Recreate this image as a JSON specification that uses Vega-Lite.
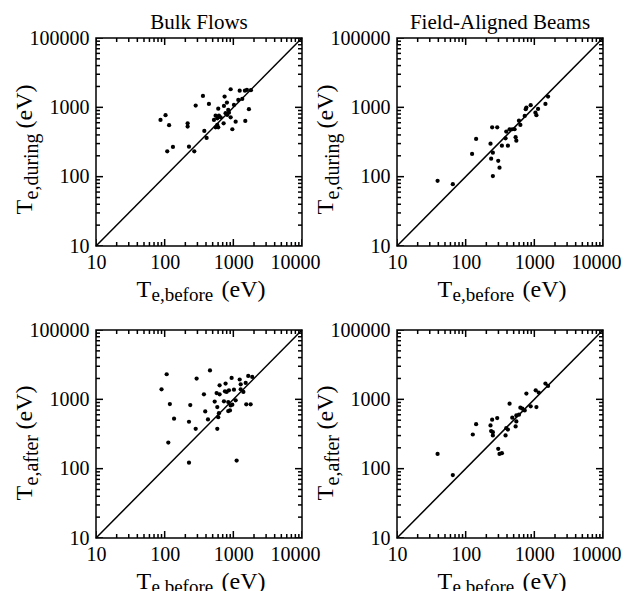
{
  "$schema": "https://vega.github.io/schema/vega-lite/v6.json",
  "background": "white",
  "padding": {"left": 11, "top": 11, "right": 5, "bottom": 0},
  "config": {
    "font": "Liberation Serif",
    "view": {"stroke": "black", "strokeWidth": 1.5},
    "axis": {"labelFont": "Liberation Serif", "labelFontSize": 20, "labelColor": "black", "domain": false, "ticks": false, "grid": false, "titleFont": "Liberation Serif", "titleColor": "black", "titleFontWeight": "normal", "labelFlush": false, "labelOverlap": false, "labelBound": false},
    "title": {"font": "Liberation Serif", "fontSize": 21, "fontWeight": "normal", "color": "black"}
  },
  "datasets": {
    "diag": [{"v": 10}, {"v": 10000}],
    "ticks": [
      {"t": 10, "kind": "major"}, {"t": 100, "kind": "major"}, {"t": 1000, "kind": "major"}, {"t": 10000, "kind": "major"},
      {"t": 20, "kind": "minor"}, {"t": 30, "kind": "minor"}, {"t": 40, "kind": "minor"}, {"t": 50, "kind": "minor"}, {"t": 60, "kind": "minor"}, {"t": 70, "kind": "minor"}, {"t": 80, "kind": "minor"}, {"t": 90, "kind": "minor"},
      {"t": 200, "kind": "minor"}, {"t": 300, "kind": "minor"}, {"t": 400, "kind": "minor"}, {"t": 500, "kind": "minor"}, {"t": 600, "kind": "minor"}, {"t": 700, "kind": "minor"}, {"t": 800, "kind": "minor"}, {"t": 900, "kind": "minor"},
      {"t": 2000, "kind": "minor"}, {"t": 3000, "kind": "minor"}, {"t": 4000, "kind": "minor"}, {"t": 5000, "kind": "minor"}, {"t": 6000, "kind": "minor"}, {"t": 7000, "kind": "minor"}, {"t": 8000, "kind": "minor"}, {"t": 9000, "kind": "minor"}
    ],
    "bulk_during": [
      {"before": 87, "during": 658}, {"before": 103, "during": 769}, {"before": 116, "during": 552}, {"before": 109, "during": 232}, {"before": 132, "during": 268},
      {"before": 216, "during": 589}, {"before": 216, "during": 527}, {"before": 226, "during": 271}, {"before": 270, "during": 232}, {"before": 283, "during": 1060},
      {"before": 361, "during": 1462}, {"before": 441, "during": 1120}, {"before": 378, "during": 456}, {"before": 408, "during": 362}, {"before": 603, "during": 957},
      {"before": 552, "during": 758}, {"before": 522, "during": 658}, {"before": 584, "during": 695}, {"before": 653, "during": 719}, {"before": 552, "during": 516},
      {"before": 603, "during": 516}, {"before": 584, "during": 557}, {"before": 722, "during": 589}, {"before": 730, "during": 1047}, {"before": 746, "during": 1428},
      {"before": 807, "during": 1170}, {"before": 843, "during": 918}, {"before": 815, "during": 776}, {"before": 914, "during": 1823}, {"before": 914, "during": 719},
      {"before": 967, "during": 483}, {"before": 1021, "during": 1083}, {"before": 1081, "during": 622}, {"before": 1237, "during": 1740}, {"before": 1181, "during": 1280},
      {"before": 1349, "during": 1322}, {"before": 1475, "during": 1740}, {"before": 1577, "during": 1782}, {"before": 1803, "during": 1770}, {"before": 1686, "during": 940},
      {"before": 1493, "during": 637}, {"before": 771, "during": 822}, {"before": 863, "during": 838}, {"before": 617, "during": 758}
    ],
    "bulk_after": [
      {"before": 90, "after": 1396}, {"before": 107, "after": 2300}, {"before": 119, "after": 855}, {"before": 137, "after": 525}, {"before": 113, "after": 238},
      {"before": 226, "after": 122}, {"before": 226, "after": 475}, {"before": 236, "after": 828}, {"before": 283, "after": 376}, {"before": 292, "after": 1995},
      {"before": 373, "after": 1181}, {"before": 390, "after": 670}, {"before": 427, "after": 513}, {"before": 457, "after": 2606}, {"before": 535, "after": 927},
      {"before": 571, "after": 1233}, {"before": 584, "after": 773}, {"before": 584, "after": 376}, {"before": 603, "after": 553}, {"before": 617, "after": 632},
      {"before": 631, "after": 1595}, {"before": 631, "after": 1181}, {"before": 730, "after": 935}, {"before": 771, "after": 1690}, {"before": 755, "after": 1306},
      {"before": 798, "after": 1276}, {"before": 863, "after": 1349}, {"before": 843, "after": 914}, {"before": 914, "after": 818}, {"before": 843, "after": 676},
      {"before": 893, "after": 692}, {"before": 944, "after": 2037}, {"before": 967, "after": 838}, {"before": 1021, "after": 1380}, {"before": 1081, "after": 968},
      {"before": 1117, "after": 131}, {"before": 1237, "after": 1932}, {"before": 1280, "after": 1648}, {"before": 1280, "after": 1396}, {"before": 1400, "after": 1276},
      {"before": 1514, "after": 1722}, {"before": 1543, "after": 847}, {"before": 1786, "after": 847}, {"before": 1648, "after": 2178}, {"before": 1884, "after": 2104}
    ],
    "fab_during": [
      {"before": 39, "during": 87}, {"before": 65, "during": 78}, {"before": 124, "during": 213}, {"before": 142, "during": 350}, {"before": 230, "during": 299},
      {"before": 243, "during": 516}, {"before": 288, "during": 516}, {"before": 235, "during": 182}, {"before": 249, "during": 222}, {"before": 249, "during": 102},
      {"before": 298, "during": 169}, {"before": 311, "during": 135}, {"before": 337, "during": 280}, {"before": 381, "during": 358}, {"before": 390, "during": 447},
      {"before": 412, "during": 280}, {"before": 436, "during": 483}, {"before": 477, "during": 483}, {"before": 516, "during": 483}, {"before": 534, "during": 371},
      {"before": 547, "during": 331}, {"before": 597, "during": 643}, {"before": 626, "during": 557}, {"before": 724, "during": 752}, {"before": 749, "during": 940},
      {"before": 766, "during": 991}, {"before": 885, "during": 1072}, {"before": 1037, "during": 838}, {"before": 1072, "during": 769}, {"before": 1133, "during": 948},
      {"before": 1451, "during": 1120}, {"before": 1584, "during": 1428}
    ],
    "fab_after": [
      {"before": 39, "after": 163}, {"before": 65, "after": 81}, {"before": 127, "after": 311}, {"before": 142, "after": 438}, {"before": 230, "after": 420},
      {"before": 243, "after": 508}, {"before": 288, "after": 536}, {"before": 235, "after": 348}, {"before": 249, "after": 336}, {"before": 249, "after": 301},
      {"before": 298, "after": 193}, {"before": 311, "after": 163}, {"before": 337, "after": 167}, {"before": 381, "after": 301}, {"before": 390, "after": 384},
      {"before": 412, "after": 367}, {"before": 436, "after": 867}, {"before": 477, "after": 543}, {"before": 534, "after": 406}, {"before": 547, "after": 480},
      {"before": 547, "after": 586}, {"before": 597, "after": 600}, {"before": 626, "after": 758}, {"before": 724, "after": 693}, {"before": 766, "after": 1211},
      {"before": 885, "after": 792}, {"before": 1072, "after": 773}, {"before": 1047, "after": 1349}, {"before": 1159, "after": 1250}, {"before": 1451, "after": 1690},
      {"before": 1584, "after": 1560}, {"before": 670, "after": 733}
    ]
  },
  "columns": 2,
  "bounds": "flush",
  "spacing": {"row": 84, "column": 95},
  "concat": [
    {
      "width": 206, "height": 208,
      "title": {"text": "Bulk Flows", "offset": -5},
      "data": {"name": "bulk_during"},
      "resolve": {"axis": {"x": "independent", "y": "independent"}},
      "layer": [
        {"mark": {"type": "point", "filled": true, "color": "black", "opacity": 1, "size": 18},
         "encoding": {
           "x": {"field": "before", "type": "quantitative", "scale": {"type": "log", "domain": [10, 10000]},
                 "axis": {"orient": "bottom", "values": [10, 100, 1000, 10000], "tickSize": 0, "labelPadding": 6,
                          "labelOffset": {"condition": {"test": "datum.value == 10000", "value": -7}, "value": 0}, "labelExpr": "format(datum.value, 'd')",
                          "title": "T", "titleFontSize": 24, "titleAlign": "left", "titleBaseline": "alphabetic", "titleX": 40, "titleY": 50}},
           "y": {"field": "during", "type": "quantitative", "scale": {"type": "log", "domain": [10, 10000]},
                 "axis": {"orient": "left", "values": [10, 100, 1000, 10000], "tickSize": 0, "labelPadding": 7,
                          "labelExpr": "datum.value == 10000 ? '100000' : format(datum.value, 'd')",
                          "title": "T", "titleFontSize": 24, "titleAngle": 270, "titleAlign": "left", "titleBaseline": "alphabetic", "titleX": -65, "titleY": 176}}
         }},
        {"data": {"name": "diag"}, "mark": {"type": "line", "color": "black", "strokeWidth": 1.5},
         "encoding": {
           "x": {"field": "v", "type": "quantitative", "scale": {"type": "log", "domain": [10, 10000]}, "axis": null},
           "y": {"field": "v", "type": "quantitative", "scale": {"type": "log", "domain": [10, 10000]}, "axis": null}
         }},
        {"mark": {"type": "point", "opacity": 0},
         "encoding": {
           "x": {"field": "before", "type": "quantitative", "scale": {"type": "log", "domain": [10, 10000]},
                 "axis": {"orient": "bottom", "labels": false, "title": "e,before", "titleFontSize": 19, "titleAlign": "left", "titleBaseline": "alphabetic", "titleX": 55, "titleY": 54.5}},
           "y": {"field": "during", "type": "quantitative", "scale": {"type": "log", "domain": [10, 10000]},
                 "axis": {"orient": "left", "labels": false, "title": "e,during", "titleFontSize": 20, "titleAngle": 270, "titleAlign": "left", "titleBaseline": "alphabetic", "titleX": -59, "titleY": 161}}
         }},
        {"mark": {"type": "point", "opacity": 0},
         "encoding": {
           "x": {"field": "before", "type": "quantitative", "scale": {"type": "log", "domain": [10, 10000]},
                 "axis": {"orient": "bottom", "labels": false, "title": "(eV)", "titleFontSize": 24, "titleAlign": "left", "titleBaseline": "alphabetic", "titleX": 125, "titleY": 50}},
           "y": {"field": "during", "type": "quantitative", "scale": {"type": "log", "domain": [10, 10000]},
                 "axis": {"orient": "left", "labels": false, "title": "(eV)", "titleFontSize": 24, "titleAngle": 270, "titleAlign": "left", "titleBaseline": "alphabetic", "titleX": -65, "titleY": 90}}
         }},
        {"data": {"name": "ticks"}, "mark": {"type": "tick", "orient": "vertical", "clip": true, "color": "black", "thickness": 1.5, "opacity": 1},
         "encoding": {
           "x": {"field": "t", "type": "quantitative", "scale": {"type": "log", "domain": [10, 10000]}, "axis": null},
           "y": {"datum": 10, "type": "quantitative", "scale": {"type": "log", "domain": [10, 10000]}, "axis": null},
           "size": {"field": "kind", "type": "nominal", "scale": {"domain": ["major", "minor"], "range": [14, 8]}, "legend": null}
         }},
        {"data": {"name": "ticks"}, "mark": {"type": "tick", "orient": "vertical", "clip": true, "color": "black", "thickness": 1.5, "opacity": 1},
         "encoding": {
           "x": {"field": "t", "type": "quantitative", "scale": {"type": "log", "domain": [10, 10000]}, "axis": null},
           "y": {"datum": 10000, "type": "quantitative", "scale": {"type": "log", "domain": [10, 10000]}, "axis": null},
           "size": {"field": "kind", "type": "nominal", "scale": {"domain": ["major", "minor"], "range": [14, 8]}, "legend": null}
         }},
        {"data": {"name": "ticks"}, "mark": {"type": "tick", "orient": "horizontal", "clip": true, "color": "black", "thickness": 1.5, "opacity": 1},
         "encoding": {
           "x": {"datum": 10, "type": "quantitative", "scale": {"type": "log", "domain": [10, 10000]}, "axis": null},
           "y": {"field": "t", "type": "quantitative", "scale": {"type": "log", "domain": [10, 10000]}, "axis": null},
           "size": {"field": "kind", "type": "nominal", "scale": {"domain": ["major", "minor"], "range": [14, 8]}, "legend": null}
         }},
        {"data": {"name": "ticks"}, "mark": {"type": "tick", "orient": "horizontal", "clip": true, "color": "black", "thickness": 1.5, "opacity": 1},
         "encoding": {
           "x": {"datum": 10000, "type": "quantitative", "scale": {"type": "log", "domain": [10, 10000]}, "axis": null},
           "y": {"field": "t", "type": "quantitative", "scale": {"type": "log", "domain": [10, 10000]}, "axis": null},
           "size": {"field": "kind", "type": "nominal", "scale": {"domain": ["major", "minor"], "range": [14, 8]}, "legend": null}
         }}
      ]
    },
    {
      "width": 206, "height": 208,
      "title": {"text": "Field-Aligned Beams", "offset": -5},
      "data": {"name": "fab_during"},
      "resolve": {"axis": {"x": "independent", "y": "independent"}},
      "layer": [
        {"mark": {"type": "point", "filled": true, "color": "black", "opacity": 1, "size": 18},
         "encoding": {
           "x": {"field": "before", "type": "quantitative", "scale": {"type": "log", "domain": [10, 10000]},
                 "axis": {"orient": "bottom", "values": [10, 100, 1000, 10000], "tickSize": 0, "labelPadding": 6,
                          "labelOffset": {"condition": {"test": "datum.value == 10000", "value": -7}, "value": 0}, "labelExpr": "format(datum.value, 'd')",
                          "title": "T", "titleFontSize": 24, "titleAlign": "left", "titleBaseline": "alphabetic", "titleX": 40, "titleY": 50}},
           "y": {"field": "during", "type": "quantitative", "scale": {"type": "log", "domain": [10, 10000]},
                 "axis": {"orient": "left", "values": [10, 100, 1000, 10000], "tickSize": 0, "labelPadding": 7,
                          "labelExpr": "datum.value == 10000 ? '100000' : format(datum.value, 'd')",
                          "title": "T", "titleFontSize": 24, "titleAngle": 270, "titleAlign": "left", "titleBaseline": "alphabetic", "titleX": -65, "titleY": 176}}
         }},
        {"data": {"name": "diag"}, "mark": {"type": "line", "color": "black", "strokeWidth": 1.5},
         "encoding": {
           "x": {"field": "v", "type": "quantitative", "scale": {"type": "log", "domain": [10, 10000]}, "axis": null},
           "y": {"field": "v", "type": "quantitative", "scale": {"type": "log", "domain": [10, 10000]}, "axis": null}
         }},
        {"mark": {"type": "point", "opacity": 0},
         "encoding": {
           "x": {"field": "before", "type": "quantitative", "scale": {"type": "log", "domain": [10, 10000]},
                 "axis": {"orient": "bottom", "labels": false, "title": "e,before", "titleFontSize": 19, "titleAlign": "left", "titleBaseline": "alphabetic", "titleX": 55, "titleY": 54.5}},
           "y": {"field": "during", "type": "quantitative", "scale": {"type": "log", "domain": [10, 10000]},
                 "axis": {"orient": "left", "labels": false, "title": "e,during", "titleFontSize": 20, "titleAngle": 270, "titleAlign": "left", "titleBaseline": "alphabetic", "titleX": -59, "titleY": 161}}
         }},
        {"mark": {"type": "point", "opacity": 0},
         "encoding": {
           "x": {"field": "before", "type": "quantitative", "scale": {"type": "log", "domain": [10, 10000]},
                 "axis": {"orient": "bottom", "labels": false, "title": "(eV)", "titleFontSize": 24, "titleAlign": "left", "titleBaseline": "alphabetic", "titleX": 125, "titleY": 50}},
           "y": {"field": "during", "type": "quantitative", "scale": {"type": "log", "domain": [10, 10000]},
                 "axis": {"orient": "left", "labels": false, "title": "(eV)", "titleFontSize": 24, "titleAngle": 270, "titleAlign": "left", "titleBaseline": "alphabetic", "titleX": -65, "titleY": 90}}
         }},
        {"data": {"name": "ticks"}, "mark": {"type": "tick", "orient": "vertical", "clip": true, "color": "black", "thickness": 1.5, "opacity": 1},
         "encoding": {
           "x": {"field": "t", "type": "quantitative", "scale": {"type": "log", "domain": [10, 10000]}, "axis": null},
           "y": {"datum": 10, "type": "quantitative", "scale": {"type": "log", "domain": [10, 10000]}, "axis": null},
           "size": {"field": "kind", "type": "nominal", "scale": {"domain": ["major", "minor"], "range": [14, 8]}, "legend": null}
         }},
        {"data": {"name": "ticks"}, "mark": {"type": "tick", "orient": "vertical", "clip": true, "color": "black", "thickness": 1.5, "opacity": 1},
         "encoding": {
           "x": {"field": "t", "type": "quantitative", "scale": {"type": "log", "domain": [10, 10000]}, "axis": null},
           "y": {"datum": 10000, "type": "quantitative", "scale": {"type": "log", "domain": [10, 10000]}, "axis": null},
           "size": {"field": "kind", "type": "nominal", "scale": {"domain": ["major", "minor"], "range": [14, 8]}, "legend": null}
         }},
        {"data": {"name": "ticks"}, "mark": {"type": "tick", "orient": "horizontal", "clip": true, "color": "black", "thickness": 1.5, "opacity": 1},
         "encoding": {
           "x": {"datum": 10, "type": "quantitative", "scale": {"type": "log", "domain": [10, 10000]}, "axis": null},
           "y": {"field": "t", "type": "quantitative", "scale": {"type": "log", "domain": [10, 10000]}, "axis": null},
           "size": {"field": "kind", "type": "nominal", "scale": {"domain": ["major", "minor"], "range": [14, 8]}, "legend": null}
         }},
        {"data": {"name": "ticks"}, "mark": {"type": "tick", "orient": "horizontal", "clip": true, "color": "black", "thickness": 1.5, "opacity": 1},
         "encoding": {
           "x": {"datum": 10000, "type": "quantitative", "scale": {"type": "log", "domain": [10, 10000]}, "axis": null},
           "y": {"field": "t", "type": "quantitative", "scale": {"type": "log", "domain": [10, 10000]}, "axis": null},
           "size": {"field": "kind", "type": "nominal", "scale": {"domain": ["major", "minor"], "range": [14, 8]}, "legend": null}
         }}
      ]
    },
    {
      "width": 206, "height": 208,
      "data": {"name": "bulk_after"},
      "resolve": {"axis": {"x": "independent", "y": "independent"}},
      "layer": [
        {"mark": {"type": "point", "filled": true, "color": "black", "opacity": 1, "size": 18},
         "encoding": {
           "x": {"field": "before", "type": "quantitative", "scale": {"type": "log", "domain": [10, 10000]},
                 "axis": {"orient": "bottom", "values": [10, 100, 1000, 10000], "tickSize": 0, "labelPadding": 6,
                          "labelOffset": {"condition": {"test": "datum.value == 10000", "value": -7}, "value": 0}, "labelExpr": "format(datum.value, 'd')",
                          "title": "T", "titleFontSize": 24, "titleAlign": "left", "titleBaseline": "alphabetic", "titleX": 40, "titleY": 50}},
           "y": {"field": "after", "type": "quantitative", "scale": {"type": "log", "domain": [10, 10000]},
                 "axis": {"orient": "left", "values": [10, 100, 1000, 10000], "tickSize": 0, "labelPadding": 7,
                          "labelExpr": "datum.value == 10000 ? '100000' : format(datum.value, 'd')",
                          "title": "T", "titleFontSize": 24, "titleAngle": 270, "titleAlign": "left", "titleBaseline": "alphabetic", "titleX": -65, "titleY": 170}}
         }},
        {"data": {"name": "diag"}, "mark": {"type": "line", "color": "black", "strokeWidth": 1.5},
         "encoding": {
           "x": {"field": "v", "type": "quantitative", "scale": {"type": "log", "domain": [10, 10000]}, "axis": null},
           "y": {"field": "v", "type": "quantitative", "scale": {"type": "log", "domain": [10, 10000]}, "axis": null}
         }},
        {"mark": {"type": "point", "opacity": 0},
         "encoding": {
           "x": {"field": "before", "type": "quantitative", "scale": {"type": "log", "domain": [10, 10000]},
                 "axis": {"orient": "bottom", "labels": false, "title": "e,before", "titleFontSize": 19, "titleAlign": "left", "titleBaseline": "alphabetic", "titleX": 55, "titleY": 54.5}},
           "y": {"field": "after", "type": "quantitative", "scale": {"type": "log", "domain": [10, 10000]},
                 "axis": {"orient": "left", "labels": false, "title": "e,after", "titleFontSize": 20, "titleAngle": 270, "titleAlign": "left", "titleBaseline": "alphabetic", "titleX": -59, "titleY": 155}}
         }},
        {"mark": {"type": "point", "opacity": 0},
         "encoding": {
           "x": {"field": "before", "type": "quantitative", "scale": {"type": "log", "domain": [10, 10000]},
                 "axis": {"orient": "bottom", "labels": false, "title": "(eV)", "titleFontSize": 24, "titleAlign": "left", "titleBaseline": "alphabetic", "titleX": 125, "titleY": 50}},
           "y": {"field": "after", "type": "quantitative", "scale": {"type": "log", "domain": [10, 10000]},
                 "axis": {"orient": "left", "labels": false, "title": "(eV)", "titleFontSize": 24, "titleAngle": 270, "titleAlign": "left", "titleBaseline": "alphabetic", "titleX": -65, "titleY": 99}}
         }},
        {"data": {"name": "ticks"}, "mark": {"type": "tick", "orient": "vertical", "clip": true, "color": "black", "thickness": 1.5, "opacity": 1},
         "encoding": {
           "x": {"field": "t", "type": "quantitative", "scale": {"type": "log", "domain": [10, 10000]}, "axis": null},
           "y": {"datum": 10, "type": "quantitative", "scale": {"type": "log", "domain": [10, 10000]}, "axis": null},
           "size": {"field": "kind", "type": "nominal", "scale": {"domain": ["major", "minor"], "range": [14, 8]}, "legend": null}
         }},
        {"data": {"name": "ticks"}, "mark": {"type": "tick", "orient": "vertical", "clip": true, "color": "black", "thickness": 1.5, "opacity": 1},
         "encoding": {
           "x": {"field": "t", "type": "quantitative", "scale": {"type": "log", "domain": [10, 10000]}, "axis": null},
           "y": {"datum": 10000, "type": "quantitative", "scale": {"type": "log", "domain": [10, 10000]}, "axis": null},
           "size": {"field": "kind", "type": "nominal", "scale": {"domain": ["major", "minor"], "range": [14, 8]}, "legend": null}
         }},
        {"data": {"name": "ticks"}, "mark": {"type": "tick", "orient": "horizontal", "clip": true, "color": "black", "thickness": 1.5, "opacity": 1},
         "encoding": {
           "x": {"datum": 10, "type": "quantitative", "scale": {"type": "log", "domain": [10, 10000]}, "axis": null},
           "y": {"field": "t", "type": "quantitative", "scale": {"type": "log", "domain": [10, 10000]}, "axis": null},
           "size": {"field": "kind", "type": "nominal", "scale": {"domain": ["major", "minor"], "range": [14, 8]}, "legend": null}
         }},
        {"data": {"name": "ticks"}, "mark": {"type": "tick", "orient": "horizontal", "clip": true, "color": "black", "thickness": 1.5, "opacity": 1},
         "encoding": {
           "x": {"datum": 10000, "type": "quantitative", "scale": {"type": "log", "domain": [10, 10000]}, "axis": null},
           "y": {"field": "t", "type": "quantitative", "scale": {"type": "log", "domain": [10, 10000]}, "axis": null},
           "size": {"field": "kind", "type": "nominal", "scale": {"domain": ["major", "minor"], "range": [14, 8]}, "legend": null}
         }}
      ]
    },
    {
      "width": 206, "height": 208,
      "data": {"name": "fab_after"},
      "resolve": {"axis": {"x": "independent", "y": "independent"}},
      "layer": [
        {"mark": {"type": "point", "filled": true, "color": "black", "opacity": 1, "size": 18},
         "encoding": {
           "x": {"field": "before", "type": "quantitative", "scale": {"type": "log", "domain": [10, 10000]},
                 "axis": {"orient": "bottom", "values": [10, 100, 1000, 10000], "tickSize": 0, "labelPadding": 6,
                          "labelOffset": {"condition": {"test": "datum.value == 10000", "value": -7}, "value": 0}, "labelExpr": "format(datum.value, 'd')",
                          "title": "T", "titleFontSize": 24, "titleAlign": "left", "titleBaseline": "alphabetic", "titleX": 40, "titleY": 50}},
           "y": {"field": "after", "type": "quantitative", "scale": {"type": "log", "domain": [10, 10000]},
                 "axis": {"orient": "left", "values": [10, 100, 1000, 10000], "tickSize": 0, "labelPadding": 7,
                          "labelExpr": "datum.value == 10000 ? '100000' : format(datum.value, 'd')",
                          "title": "T", "titleFontSize": 24, "titleAngle": 270, "titleAlign": "left", "titleBaseline": "alphabetic", "titleX": -65, "titleY": 170}}
         }},
        {"data": {"name": "diag"}, "mark": {"type": "line", "color": "black", "strokeWidth": 1.5},
         "encoding": {
           "x": {"field": "v", "type": "quantitative", "scale": {"type": "log", "domain": [10, 10000]}, "axis": null},
           "y": {"field": "v", "type": "quantitative", "scale": {"type": "log", "domain": [10, 10000]}, "axis": null}
         }},
        {"mark": {"type": "point", "opacity": 0},
         "encoding": {
           "x": {"field": "before", "type": "quantitative", "scale": {"type": "log", "domain": [10, 10000]},
                 "axis": {"orient": "bottom", "labels": false, "title": "e,before", "titleFontSize": 19, "titleAlign": "left", "titleBaseline": "alphabetic", "titleX": 55, "titleY": 54.5}},
           "y": {"field": "after", "type": "quantitative", "scale": {"type": "log", "domain": [10, 10000]},
                 "axis": {"orient": "left", "labels": false, "title": "e,after", "titleFontSize": 20, "titleAngle": 270, "titleAlign": "left", "titleBaseline": "alphabetic", "titleX": -59, "titleY": 155}}
         }},
        {"mark": {"type": "point", "opacity": 0},
         "encoding": {
           "x": {"field": "before", "type": "quantitative", "scale": {"type": "log", "domain": [10, 10000]},
                 "axis": {"orient": "bottom", "labels": false, "title": "(eV)", "titleFontSize": 24, "titleAlign": "left", "titleBaseline": "alphabetic", "titleX": 125, "titleY": 50}},
           "y": {"field": "after", "type": "quantitative", "scale": {"type": "log", "domain": [10, 10000]},
                 "axis": {"orient": "left", "labels": false, "title": "(eV)", "titleFontSize": 24, "titleAngle": 270, "titleAlign": "left", "titleBaseline": "alphabetic", "titleX": -65, "titleY": 99}}
         }},
        {"data": {"name": "ticks"}, "mark": {"type": "tick", "orient": "vertical", "clip": true, "color": "black", "thickness": 1.5, "opacity": 1},
         "encoding": {
           "x": {"field": "t", "type": "quantitative", "scale": {"type": "log", "domain": [10, 10000]}, "axis": null},
           "y": {"datum": 10, "type": "quantitative", "scale": {"type": "log", "domain": [10, 10000]}, "axis": null},
           "size": {"field": "kind", "type": "nominal", "scale": {"domain": ["major", "minor"], "range": [14, 8]}, "legend": null}
         }},
        {"data": {"name": "ticks"}, "mark": {"type": "tick", "orient": "vertical", "clip": true, "color": "black", "thickness": 1.5, "opacity": 1},
         "encoding": {
           "x": {"field": "t", "type": "quantitative", "scale": {"type": "log", "domain": [10, 10000]}, "axis": null},
           "y": {"datum": 10000, "type": "quantitative", "scale": {"type": "log", "domain": [10, 10000]}, "axis": null},
           "size": {"field": "kind", "type": "nominal", "scale": {"domain": ["major", "minor"], "range": [14, 8]}, "legend": null}
         }},
        {"data": {"name": "ticks"}, "mark": {"type": "tick", "orient": "horizontal", "clip": true, "color": "black", "thickness": 1.5, "opacity": 1},
         "encoding": {
           "x": {"datum": 10, "type": "quantitative", "scale": {"type": "log", "domain": [10, 10000]}, "axis": null},
           "y": {"field": "t", "type": "quantitative", "scale": {"type": "log", "domain": [10, 10000]}, "axis": null},
           "size": {"field": "kind", "type": "nominal", "scale": {"domain": ["major", "minor"], "range": [14, 8]}, "legend": null}
         }},
        {"data": {"name": "ticks"}, "mark": {"type": "tick", "orient": "horizontal", "clip": true, "color": "black", "thickness": 1.5, "opacity": 1},
         "encoding": {
           "x": {"datum": 10000, "type": "quantitative", "scale": {"type": "log", "domain": [10, 10000]}, "axis": null},
           "y": {"field": "t", "type": "quantitative", "scale": {"type": "log", "domain": [10, 10000]}, "axis": null},
           "size": {"field": "kind", "type": "nominal", "scale": {"domain": ["major", "minor"], "range": [14, 8]}, "legend": null}
         }}
      ]
    }
  ]
}
